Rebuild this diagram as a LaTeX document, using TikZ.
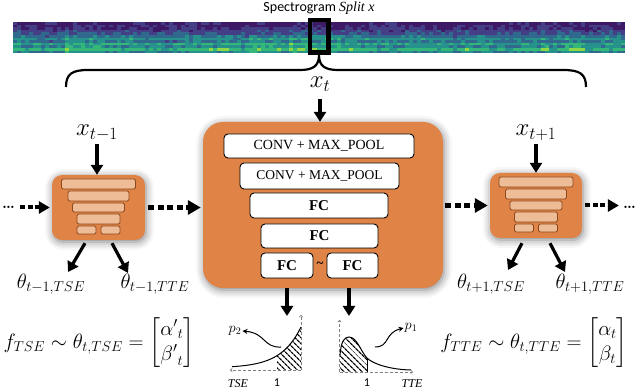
\documentclass[tikz,border=0pt]{standalone}
\usepackage{amsmath}
\usepackage{fontspec}
\newfontfamily\carl{Carlito}
\newfontfamily\tnr{Liberation Serif}
\usetikzlibrary{arrows.meta,patterns.meta,shadows.blur,calc}
\definecolor{boxorange}{HTML}{DF8346}
\definecolor{barfill}{HTML}{EEBC97}
\definecolor{barline}{HTML}{8E4A1D}
\definecolor{spec0}{HTML}{3E1A66}
\definecolor{spec1}{HTML}{433E85}
\definecolor{spec2}{HTML}{31688E}
\definecolor{spec3}{HTML}{26928B}
\definecolor{spec4}{HTML}{35B779}
\definecolor{spec5}{HTML}{8FD744}
\definecolor{spec6}{HTML}{E5E419}
\begin{document}
\begin{tikzpicture}[x=1pt,y=-1pt,
  bigarrow/.style={line width=3.2pt,-{Triangle[length=10pt,width=12pt]}},
  dotarrow/.style={line width=5pt,dash pattern=on 6pt off 3.5pt,-{Triangle[length=13pt,width=14pt]}},
  smalldot/.style={line width=4pt,dash pattern=on 5pt off 2.5pt,-{Triangle[length=11pt,width=12pt]}},
  obox/.style={fill=boxorange,draw=none,inner sep=0pt,
    blur shadow={shadow blur radius=8pt,shadow xshift=1pt,shadow yshift=-2pt,shadow opacity=50}},
  wbox/.style={draw=black,line width=0.9pt,fill=white,rounded corners=4pt,inner sep=0pt},
  convtxt/.style={font=\tnr\fontsize{14}{16}\selectfont},
  fctxt/.style={font=\tnr\bfseries\fontsize{15}{17}\selectfont},
  bar/.style={fill=barfill,draw=barline,line width=0.8pt,rounded corners=1.5pt},
  axisline/.style={draw=gray,line width=0.6pt,dash pattern=on 3pt off 2pt,-{To[length=2.5pt,width=4pt]}},
  curveline/.style={line width=1pt},
  hatch/.style={pattern={Lines[angle=-45,distance=4pt,line width=1.3pt]}},
  parrow/.style={line width=1pt,-{Stealth[length=5pt,width=5pt]}},
  mathlbl/.style={font=\fontsize{20}{22}\selectfont},
  formula/.style={font=\fontsize{21}{25}\selectfont},
  plotlbl/.style={font=\tnr\itshape\fontsize{12}{14}\selectfont},
  onelbl/.style={font=\carl\fontsize{12}{14}\selectfont},
  dotslbl/.style={font=\bfseries\fontsize{16}{18}\selectfont,inner sep=0pt}
]
\useasboundingbox (0,0) rectangle (638,390);

% title
\node[font=\carl\fontsize{14}{16}\selectfont] (title) at (319,8) {Spectrogram {\tnr\itshape Split x}};

% spectrogram
\pgfmathsetseed{11}
\xdef\cbg{0.5}
\xdef\age{0}
\foreach \i in {0,...,152} {
  \pgfmathparse{rnd}
  \ifdim\pgfmathresult pt<0.11pt
    \pgfmathparse{rnd}\xdef\cbg{\pgfmathresult}\xdef\age{0}
  \else
    \pgfmathparse{\age+1}\xdef\age{\pgfmathresult}
  \fi
  \pgfmathsetmacro{\cb}{\cbg*1.5*exp(-\age/12)}
  \foreach \j/\b in {0/0.2,1/0.4,2/0.5,3/1.0,4/1.3,5/2.0,6/2.8,7/2.0,8/3.2,9/2.5,10/3.6,11/2.2} {
    \pgfmathtruncatemacro{\idx}{max(0,min(6,floor(\b+1.3*rnd-0.2+\cb*\j/11)))}
    \fill[spec\idx] ({13+4*\i},{22+2.6*\j}) rectangle ++(4.3,2.8);
  }
}
\node[draw=black,line width=4.5pt,minimum width=18.5pt,minimum height=32.5pt,inner sep=0pt] (sel) at (319,36.5) {};

% brace
\draw[line width=2.2pt] (66,87) .. controls (66,74) and (72,70) .. (88,70) -- (300,70)
  .. controls (313,70) and (319,66) .. (sel.south)
  .. controls (319,66) and (325,70) .. (338,70) -- (563,70)
  .. controls (580,70) and (586,74) .. (586,87);

% boxes
\node[obox,rounded corners=20pt,minimum width=240pt,minimum height=166pt] (main) at (323,205) {};
\node[obox,rounded corners=10pt,minimum width=93pt,minimum height=65pt] (lbox) at (98.5,207.5) {};
\node[obox,rounded corners=10pt,minimum width=92pt,minimum height=65pt] (rbox) at (536,205.5) {};

\node[wbox,convtxt,minimum width=190pt,minimum height=24pt] (c1) at (319,146) {CONV + MAX\_POOL};
\node[wbox,convtxt,font=\tnr\fontsize{13.5}{16}\selectfont,minimum width=159pt,minimum height=26pt] (c2) at (319.5,176) {CONV + MAX\_POOL};
\node[wbox,fctxt,minimum width=138pt,minimum height=25pt] (f1) at (319,205.5) {FC};
\node[wbox,fctxt,minimum width=117pt,minimum height=24pt] (f2) at (319.5,236) {FC};
\node[wbox,fctxt,minimum width=52pt,minimum height=25pt] (f3) at (287,265.5) {FC};
\node[wbox,fctxt,minimum width=51pt,minimum height=25pt] (f4) at (352.5,265.5) {FC};
\node[font=\tnr\bfseries\fontsize{13}{15}\selectfont,inner sep=0pt] (tl) at (320,265) {\textasciitilde};

\foreach \b in {lbox,rbox} {
  \begin{scope}[shift={(\b.center)}]
    \draw[bar] (-37,-28.5) rectangle (37,-18.5);
    \draw[bar] (-30.5,-16.5) rectangle (30.5,-6.5);
    \draw[bar] (-26,-4.5) rectangle (26,4.5);
    \draw[bar] (-21.5,6.5) rectangle (21.5,16.5);
    \draw[bar] (-21.5,18.5) rectangle (-2.5,26.5);
    \draw[bar] (2.5,18.5) rectangle (21.5,26.5);
  \end{scope}
}

% inputs
\node[font=\fontsize{26}{28}\selectfont] (xt) at (320,84) {$x_t$};
\draw[bigarrow] ([yshift=-4pt]xt.south) -- (xt.south |- main.north);
\node[font=\fontsize{24}{26}\selectfont] (xl) at (97,133) {$x_{t-1}$};
\draw[bigarrow] (xl.south) -- (xl.south |- lbox.north);
\node[font=\fontsize{24}{26}\selectfont] (xr) at (536,133) {$x_{t+1}$};
\draw[bigarrow] (xr.south) -- (xr.south |- rbox.north);

% dotted chain
\node[dotslbl] (dl) at (8.5,207) {\ldots};
\node[dotslbl] (dr) at (629.5,207) {\ldots};
\draw[smalldot] ([xshift=5pt]dl.east |- lbox.west) -- ([xshift=-2pt]lbox.west);
\draw[dotarrow] ([xshift=3pt]lbox.east) -- ([xshift=-2pt]lbox.east -| main.west);
\draw[dotarrow] ([xshift=2pt]main.east |- rbox.west) -- ([xshift=-2pt]rbox.west);
\draw[smalldot] ([xshift=3pt]rbox.east) -- ([xshift=-4pt]dr.west |- rbox.east);

% theta outputs
\node[mathlbl] (thl1) at (51,284) {$\theta_{t-1,TSE}$};
\node[mathlbl] (thl2) at (155,284) {$\theta_{t-1,TTE}$};
\node[mathlbl] (thr1) at (491,284) {$\theta_{t+1,TSE}$};
\node[mathlbl] (thr2) at (590,284) {$\theta_{t+1,TTE}$};
\coordinate (tl1) at (68,272);
\coordinate (tl2) at (128,273);
\coordinate (tr1) at (508,270);
\coordinate (tr2) at (565,272);
\draw[bigarrow] ([xshift=-13.5pt,yshift=-3pt]lbox.south) -- (tl1);
\draw[bigarrow] ([xshift=13.5pt,yshift=-3pt]lbox.south) -- (tl2);
\draw[bigarrow] ([xshift=-14pt,yshift=-5pt]rbox.south) -- (tr1);
\draw[bigarrow] ([xshift=14pt,yshift=-5pt]rbox.south) -- (tr2);

% outputs of main
\coordinate (pa) at (287,316);
\coordinate (pb) at (349,316);
\draw[bigarrow] (main.south -| pa) -- (pa);
\draw[bigarrow] (main.south -| pb) -- (pb);

% left plot (TSE)
\fill[hatch] (277,370) -- plot[domain=277:301,samples=20] (\x,{368-41*exp((\x-301)/20)}) -- (301,370) -- cycle;
\draw[axisline] (301,370) -- (301,315);
\draw[axisline] (301,370) -- (230,370);
\draw[curveline] plot[domain=232:301,samples=50] (\x,{368-41*exp((\x-301)/20)});
\node[plotlbl] (tse) at (238,384) {TSE};
\node[onelbl] (one1) at (277,383) {1};
\node[font=\fontsize{14}{16}\selectfont,inner sep=1pt] (p2) at (235,331) {$p_2$};
\coordinate (cs2) at (281,347);
\draw[parrow] (cs2) .. controls (263,348) and (266,333) .. (p2.east);

% right plot (TTE)
\fill[hatch] (340,372) -- (340,355) .. controls (341,342) and (344,337) .. (349,337)
  .. controls (357,337) and (361,352) .. (367,358) -- (367,372) -- cycle;
\draw[axisline] (339.5,372) -- (339.5,320);
\draw[axisline] (339.5,372) -- (413,372);
\draw[curveline] (340,355) .. controls (341,342) and (344,337) .. (349,337)
  .. controls (357,337) and (361,352) .. (367,358)
  .. controls (373,364) and (390,369.5) .. (411,370);
\draw[line width=0.8pt] (367,358) -- (367,372);
\node[plotlbl] (tte) at (412,384) {TTE};
\node[onelbl] (one2) at (367,383) {1};
\node[font=\fontsize{14}{16}\selectfont,inner sep=1pt] (p1) at (411,328) {$p_1$};
\coordinate (cs1) at (375,347);
\draw[parrow] (cs1) .. controls (390,347) and (384,333) .. (p1.west);

% formulas
\node[formula] (fl) at (99,343) {$f_{TSE}\sim\theta_{t,TSE}=\begin{bmatrix}{\alpha'}_t\\ {\beta'}_t\end{bmatrix}$};
\node[formula] (fr) at (534,343) {$f_{TTE}\sim\theta_{t,TTE}=\begin{bmatrix}\alpha_t\\ \beta_t\end{bmatrix}$};
\end{tikzpicture}
\end{document}
